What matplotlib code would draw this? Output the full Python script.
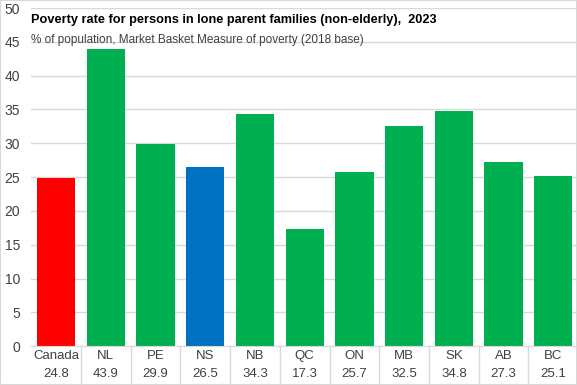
import matplotlib.pyplot as plt
from matplotlib.patches import Rectangle

# Chart data
regions = ['Canada', 'NL', 'PE', 'NS', 'NB', 'QC', 'ON', 'MB', 'SK', 'AB', 'BC']
rates = [24.8, 43.9, 29.9, 26.5, 34.3, 17.3, 25.7, 32.5, 34.8, 27.3, 25.1]
bar_colors = ['#ff0000', '#00b050', '#00b050', '#0070c0', '#00b050', '#00b050',
              '#00b050', '#00b050', '#00b050', '#00b050', '#00b050']
y_ticks = [0, 5, 10, 15, 20, 25, 30, 35, 40, 45, 50]

plt.rcParams['font.family'] = ['Liberation Sans', 'DejaVu Sans']

fig = plt.figure(figsize=(5.77, 3.85), dpi=100)
ax = fig.add_axes([0.054, 0.101, 0.948, 0.878])

# Bars
x = list(range(len(regions)))
ax.bar(x, rates, width=0.77, color=bar_colors, zorder=2)
ax.set_xlim(-0.5, len(regions) - 0.5)
ax.set_ylim(0, 50)
ax.set_yticks(y_ticks)
ax.set_xticks([])
ax.tick_params(axis='y', length=0, labelsize=10, colors='#404040', pad=8)
ax.grid(axis='y', color='#d9d9d9', linewidth=1, zorder=0)
for side in ['top', 'right', 'left']:
    ax.spines[side].set_visible(False)
ax.spines['bottom'].set_color('#d9d9d9')

# Data table under the axis
trans = ax.get_xaxis_transform()
for i in range(len(regions)):
    ax.text(i, -0.03, regions[i], transform=trans, ha='center', va='center',
            fontsize=9.5, color='#404040')
    ax.text(i, -0.083, f'{rates[i]:.1f}', transform=trans, ha='center', va='center',
            fontsize=9.5, color='#404040')
for i in range(len(regions) - 1):
    ax.plot([i + 0.5, i + 0.5], [0, -0.11], transform=trans, color='#d9d9d9',
            linewidth=1, clip_on=False)

# Titles
ax.text(0.0, 0.965, 'Poverty rate for persons in lone parent families (non-elderly),  2023',
        transform=ax.transAxes, fontsize=9.2, fontweight='bold', color='black',
        ha='left', va='center')
ax.text(0.0, 0.905, '% of population, Market Basket Measure of poverty (2018 base)',
        transform=ax.transAxes, fontsize=8.5, color='#404040', ha='left', va='center')

# Chart border
fig.patches.append(Rectangle((0, 0), 1, 1, transform=fig.transFigure, fill=False,
                             edgecolor='#d9d9d9', linewidth=1.5))

fig.savefig('out.png', dpi=100)
